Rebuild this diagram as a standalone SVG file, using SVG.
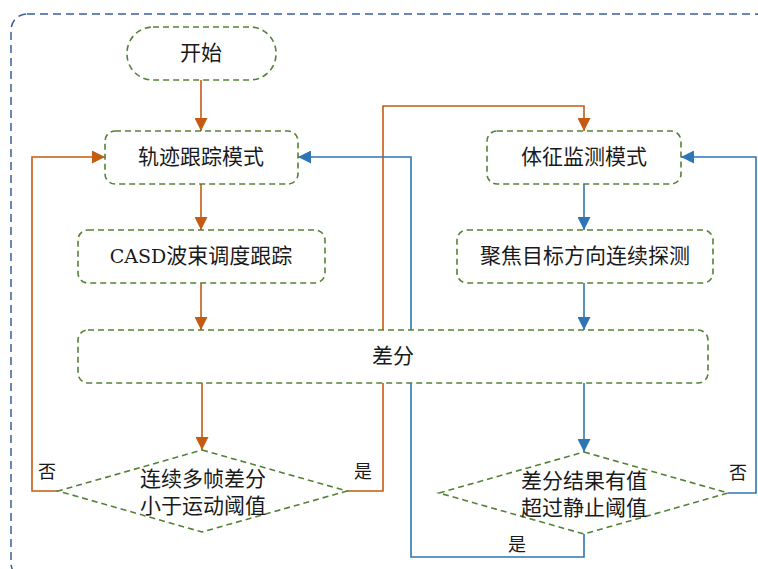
<svg xmlns="http://www.w3.org/2000/svg" width="758" height="569" viewBox="0 0 758 569">
<defs>
<style>
.node{fill:#fff;stroke:#548235;stroke-width:1.6;stroke-dasharray:6 4}
.t{font-family:'Liberation Serif','Noto Sans CJK SC',serif;font-size:21px;fill:#1a1a1a;text-anchor:middle;dominant-baseline:central}
.lbl{font-family:'Liberation Serif','Noto Sans CJK SC',serif;font-size:18px;fill:#1a1a1a;text-anchor:middle;dominant-baseline:central}
.lat{font-family:'DejaVu Serif','Liberation Serif',serif;font-size:19px}
.or{fill:none;stroke:#C55A11;stroke-width:1.6}
.bl{fill:none;stroke:#2E75B6;stroke-width:1.6}
</style>
<marker id="ao" viewBox="0 0 13 13" markerWidth="13" markerHeight="13" refX="13" refY="6.5" orient="auto" markerUnits="userSpaceOnUse"><path d="M0,0 L13,6.5 L0,13 Z" fill="#C55A11"/></marker>
<marker id="ab" viewBox="0 0 13 13" markerWidth="13" markerHeight="13" refX="13" refY="6.5" orient="auto" markerUnits="userSpaceOnUse"><path d="M0,0 L13,6.5 L0,13 Z" fill="#2E75B6"/></marker>
</defs>
<rect x="11" y="14" width="760" height="565" rx="16" fill="none" stroke="#3B5E9E" stroke-width="1.5" stroke-dasharray="8 5"/>
<g id="connectors">
<path class="or" d="M201,80 V131" marker-end="url(#ao)"/>
<path class="or" d="M201,184 V230" marker-end="url(#ao)"/>
<path class="or" d="M201,283 V330" marker-end="url(#ao)"/>
<path class="or" d="M202,383 V450" marker-end="url(#ao)"/>
<path class="or" d="M58,491 H32 V157 H105" marker-end="url(#ao)"/>
<path class="or" d="M347,491 H383 V106 H584 V131" marker-end="url(#ao)"/>
<path class="bl" d="M584,184 V230" marker-end="url(#ab)"/>
<path class="bl" d="M584,283 V330" marker-end="url(#ab)"/>
<path class="bl" d="M584,383 V452" marker-end="url(#ab)"/>
<path class="bl" d="M728,493 H756 V157 H681" marker-end="url(#ab)"/>
<path class="bl" d="M584,534 V557 H411 V157 H298" marker-end="url(#ab)"/>
<text class="lbl" x="47" y="472">否</text>
<text class="lbl" x="363" y="472">是</text>
<text class="lbl" x="738" y="473">否</text>
<text class="lbl" x="517" y="545">是</text>
</g>
<g id="start"><rect class="node" x="127" y="27" width="149" height="53" rx="26"/><text class="t" x="201" y="53">开始</text></g>
<g id="track"><rect class="node" x="105" y="131" width="193" height="53" rx="10"/><text class="t" x="201" y="157">轨迹跟踪模式</text></g>
<g id="casd"><rect class="node" x="78" y="230" width="247" height="53" rx="10"/><text class="t" x="201" y="256"><tspan class="lat">CASD</tspan>波束调度跟踪</text></g>
<g id="vital"><rect class="node" x="487" y="131" width="194" height="53" rx="10"/><text class="t" x="584" y="157">体征监测模式</text></g>
<g id="focus"><rect class="node" x="457" y="230" width="256" height="53" rx="10"/><text class="t" x="585" y="256">聚焦目标方向连续探测</text></g>
<g id="diff"><rect class="node" x="78" y="330" width="630" height="53" rx="10"/><text class="t" x="393" y="356">差分</text></g>
<g id="dec1"><polygon class="node" points="202,450 347,491 202,532 58,491"/><text class="t" x="203" y="479">连续多帧差分</text><text class="t" x="203" y="506">小于运动阈值</text></g>
<g id="dec2"><polygon class="node" points="584,452 728,493 584,534 439,493"/><text class="t" x="584" y="481">差分结果有值</text><text class="t" x="584" y="508">超过静止阈值</text></g>
</svg>
